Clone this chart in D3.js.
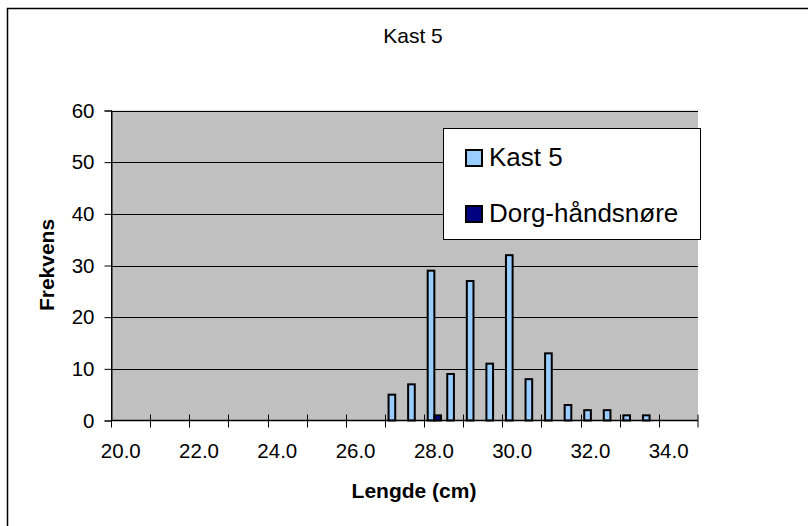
<!DOCTYPE html>
<html>
<head>
<meta charset="utf-8">
<script src="https://cdn.jsdelivr.net/npm/d3@7"></script>
<style>
  html, body { margin: 0; padding: 0; background: #fff; }
  svg { display: block; font-family: "Liberation Sans", Arial, sans-serif; }
</style>
</head>
<body>
<svg id="chart" width="808" height="526"></svg>
<script>
// ---- data ----
const categories = ["20.0","20.5","21.0","21.5","22.0","22.5","23.0","23.5","24.0","24.5",
                    "25.0","25.5","26.0","26.5","27.0","27.5","28.0","28.5","29.0","29.5",
                    "30.0","30.5","31.0","31.5","32.0","32.5","33.0","33.5","34.0","34.5"];
const kast5 = [0,0,0,0,0,0,0,0,0,0,
               0,0,0,0,5,7,29,9,27,11,
               32,8,13,3,2,2,1,1,0,0];
const dorg  = [0,0,0,0,0,0,0,0,0,0,
               0,0,0,0,0,0,1,0,0,0,
               0,0,0,0,0,0,0,0,0,0];
const seriesNames = ["Kast 5", "Dorg-håndsnøre"];
const seriesColors = ["#99CCFF", "#000080"];
const xTickLabels = ["20.0","22.0","24.0","26.0","28.0","30.0","32.0","34.0"];
const yTicks = [0,10,20,30,40,50,60];
const chartTitle = "Kast 5";
const xTitle = "Lengde (cm)";
const yTitle = "Frekvens";

// ---- layout ----
const svg = d3.select("#chart");
const pL = 111, pR = 698, pT = 110.5, pB = 420.5;

const x = d3.scaleBand().domain(categories).range([pL, pR]).padding(0);
const y = d3.scaleLinear().domain([0, 60]).range([pB, pT]);
const bw = x.bandwidth();
const sub = d3.scaleBand().domain([0, 1]).range([0, bw]).paddingInner(0).paddingOuter(0.47);

// outer frame
svg.append("rect").attr("x", 7.5).attr("y", 8.5).attr("width", 900).attr("height", 600)
  .attr("fill", "#fff").attr("stroke", "#000").attr("stroke-width", 1.5);

// plot area
svg.append("rect").attr("x", pL).attr("y", pT).attr("width", pR - pL).attr("height", pB - pT)
  .attr("fill", "#C0C0C0");

// gridlines
svg.append("g").selectAll("line").data(yTicks.filter(d => d > 0)).join("line")
  .attr("x1", pL).attr("x2", pR)
  .attr("y1", d => Math.round(y(d)) + 0.5).attr("y2", d => Math.round(y(d)) + 0.5)
  .attr("stroke", "#000").attr("stroke-width", 1);

// y axis
const yAxis = d3.axisLeft(y).tickValues(yTicks).tickSize(7).tickPadding(10).tickFormat(d3.format("d"));
const gy = svg.append("g").attr("transform", `translate(${pL + 0.5},0)`).call(yAxis);
gy.select(".domain").attr("stroke", "#000");
gy.selectAll(".tick line").attr("stroke", "#000");
gy.selectAll(".tick text").attr("font-size", 20.5).attr("fill", "#000")
  .attr("font-family", "'Liberation Sans', Arial, sans-serif");

// bars
const series = [kast5, dorg];
series.forEach((vals, si) => {
  svg.append("g").selectAll("rect")
    .data(categories.map((c, i) => ({ c, v: vals[i] })).filter(d => d.v > 0))
    .join("rect")
    .attr("x", d => x(d.c) + sub(si) + 0.5)
    .attr("y", d => y(d.v))
    .attr("width", sub.bandwidth())
    .attr("height", d => y(0) - y(d.v))
    .attr("fill", seriesColors[si])
    .attr("stroke", "#000").attr("stroke-width", 2);
});

// x axis line
svg.append("line").attr("x1", pL).attr("x2", pR).attr("y1", pB).attr("y2", pB)
  .attr("stroke", "#000").attr("stroke-width", 1.5);
// x ticks at every second category boundary (crossing)
const tickCats = categories.filter((c, i) => i % 2 === 0);
svg.append("g").selectAll("line").data(tickCats.concat(["__end"])).join("line")
  .attr("x1", d => d === "__end" ? pR : Math.round(x(d)) + 0.5)
  .attr("x2", d => d === "__end" ? pR : Math.round(x(d)) + 0.5)
  .attr("y1", pB - 6).attr("y2", pB + 7)
  .attr("stroke", "#000").attr("stroke-width", 1);
// x tick labels
svg.append("g").selectAll("text").data(xTickLabels).join("text")
  .attr("x", d => x(d) + bw / 2).attr("y", 458)
  .attr("text-anchor", "middle").attr("font-size", 20.5).attr("fill", "#000").text(d => d);

// y-axis left line redraw on top
svg.append("line").attr("x1", pL + 0.5).attr("x2", pL + 0.5).attr("y1", pT).attr("y2", pB)
  .attr("stroke", "#000").attr("stroke-width", 1);

// titles
svg.append("text").attr("x", 413).attr("y", 43).attr("text-anchor", "middle")
  .attr("font-size", 21).attr("fill", "#000").text(chartTitle);
svg.append("text").attr("x", 414).attr("y", 498).attr("text-anchor", "middle")
  .attr("font-size", 21).attr("font-weight", "bold").attr("fill", "#000").text(xTitle);
svg.append("text").attr("transform", "translate(54,265) rotate(-90)").attr("text-anchor", "middle")
  .attr("font-size", 21).attr("font-weight", "bold").attr("fill", "#000").text(yTitle);

// legend
const lg = svg.append("g");
lg.append("rect").attr("x", 443.5).attr("y", 128.5).attr("width", 257).attr("height", 111)
  .attr("fill", "#fff").attr("stroke", "#000").attr("stroke-width", 1);
const legY = [166, 222];
seriesNames.forEach((n, i) => {
  lg.append("rect").attr("x", 466).attr("y", legY[i] - 16).attr("width", 16).attr("height", 16)
    .attr("fill", seriesColors[i]).attr("stroke", "#000").attr("stroke-width", 2);
  lg.append("text").attr("x", 489).attr("y", legY[i]).attr("font-size", 26).attr("fill", "#000").text(n);
});
</script>
</body>
</html>
